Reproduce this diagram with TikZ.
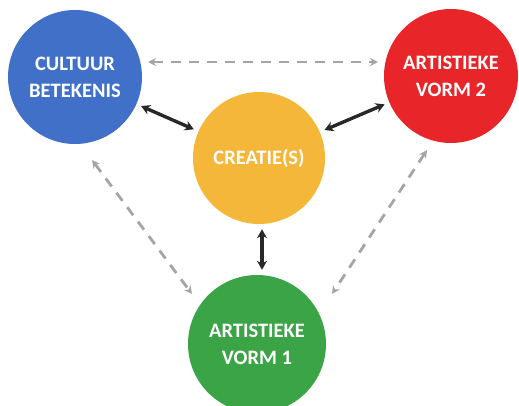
\documentclass[tikz,border=0pt]{standalone}
\usepackage{fontspec}
\setmainfont{Carlito}
\usetikzlibrary{arrows.meta}
\definecolor{cblue}{RGB}{64,112,200}
\definecolor{cred}{RGB}{232,38,42}
\definecolor{cyellow}{RGB}{245,183,58}
\definecolor{cgreen}{RGB}{58,164,70}
\definecolor{cgray}{RGB}{165,165,165}
\definecolor{cdark}{RGB}{40,40,40}
\begin{document}
\begin{tikzpicture}[x=1pt,y=-1pt,
  ball/.style={circle,minimum size=134pt,inner sep=0pt,text=white,align=center,
    font=\fontsize{20.5}{27}\selectfont\bfseries},
  solidlink/.style={cdark,line width=3.4pt,shorten <=5pt,shorten >=5pt,{Stealth[length=9pt,width=10pt]}-{Stealth[length=9pt,width=10pt]}},
  dashlink/.style={cgray,line width=2.8pt,dash pattern=on 10pt off 8pt,{Stealth[length=8pt,width=8pt]}-{Stealth[length=8pt,width=8pt]}}]
\useasboundingbox (0,0) rectangle (519,406);
\node[ball,fill=cblue] (cult) at (75,77) {CULTUUR\\BETEKENIS};
\node[ball,fill=cred] (v2) at (451,76) {ARTISTIEKE\\VORM 2};
\node[ball,fill=cyellow,minimum size=132pt] (cre) at (259,158) {CREATIE(S)};
\node[ball,fill=cgreen,minimum size=138pt] (v1) at (257,344) {ARTISTIEKE\\VORM 1};
\coordinate (a1) at (148,62);
\coordinate (a2) at (378,62);
\coordinate (b1) at (92,160);
\coordinate (b2) at (192,294);
\coordinate (c1) at (427,150);
\coordinate (c2) at (332,294);
\draw[dashlink] (a1) -- (a2);
\draw[dashlink] (b1) -- (b2);
\draw[dashlink] (c1) -- (c2);
\draw[solidlink] (cult) -- (cre);
\draw[solidlink] (cre) -- (v2);
\draw[solidlink] (cre.south) ++(3,0) coordinate (d1) -- (d1 |- v1.north);
\end{tikzpicture}
\end{document}
